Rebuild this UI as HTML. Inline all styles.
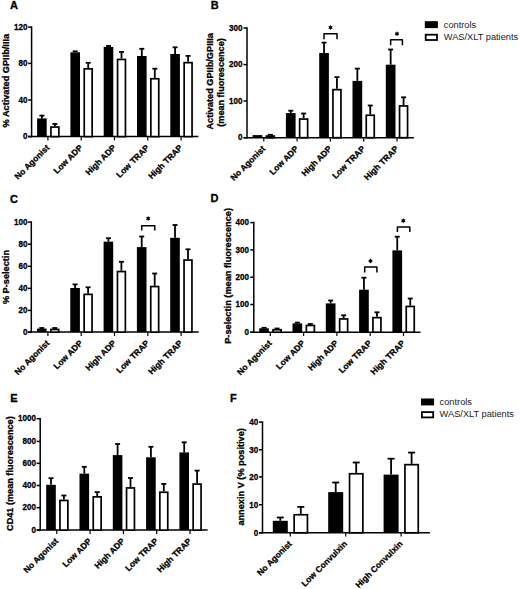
<!DOCTYPE html>
<html><head><meta charset="utf-8"><style>
html,body{margin:0;padding:0;background:#fff;}
svg{display:block;}
svg text{font-family:"Liberation Sans", sans-serif;}
svg text[font-weight="bold"]{stroke:#000;stroke-width:0.3px;}
</style></head><body>
<svg width="520" height="589" viewBox="0 0 520 589">
<rect width="520" height="589" fill="#fff"/>
<line x1="31.60" y1="26.35" x2="31.60" y2="137.35" stroke="#000" stroke-width="1.5"/>
<line x1="28.10" y1="136.60" x2="198.40" y2="136.60" stroke="#000" stroke-width="1.5"/>
<line x1="28.10" y1="27.10" x2="31.60" y2="27.10" stroke="#000" stroke-width="1.5"/>
<text transform="translate(27.40 29.85) scale(0.92 1)" font-size="8.8" font-weight="bold" text-anchor="end" fill="#000">120</text>
<line x1="28.10" y1="63.40" x2="31.60" y2="63.40" stroke="#000" stroke-width="1.5"/>
<text transform="translate(27.40 66.15) scale(0.92 1)" font-size="8.8" font-weight="bold" text-anchor="end" fill="#000">80</text>
<line x1="28.10" y1="100.00" x2="31.60" y2="100.00" stroke="#000" stroke-width="1.5"/>
<text transform="translate(27.40 102.75) scale(0.92 1)" font-size="8.8" font-weight="bold" text-anchor="end" fill="#000">40</text>
<line x1="28.10" y1="136.60" x2="31.60" y2="136.60" stroke="#000" stroke-width="1.5"/>
<text transform="translate(27.40 139.35) scale(0.92 1)" font-size="8.8" font-weight="bold" text-anchor="end" fill="#000">0</text>
<line x1="41.90" y1="118.40" x2="41.90" y2="115.60" stroke="#000" stroke-width="1.8"/>
<line x1="39.40" y1="115.60" x2="44.40" y2="115.60" stroke="#000" stroke-width="1.8"/>
<rect x="37.10" y="118.40" width="9.60" height="18.20" fill="#000"/>
<line x1="54.90" y1="126.20" x2="54.90" y2="124.00" stroke="#000" stroke-width="1.8"/>
<line x1="52.40" y1="124.00" x2="57.40" y2="124.00" stroke="#000" stroke-width="1.8"/>
<rect x="50.95" y="127.05" width="7.90" height="9.55" fill="#fff" stroke="#000" stroke-width="1.7"/>
<line x1="47.90" y1="136.60" x2="47.90" y2="140.40" stroke="#000" stroke-width="1.2"/>
<text x="49.90" y="148.20" font-size="8.5" font-weight="bold" text-anchor="end" fill="#000" transform="rotate(-45 49.9 148.2)">No Agonist</text>
<line x1="75.20" y1="52.30" x2="75.20" y2="51.30" stroke="#000" stroke-width="1.8"/>
<line x1="72.70" y1="51.30" x2="77.70" y2="51.30" stroke="#000" stroke-width="1.8"/>
<rect x="70.40" y="52.30" width="9.60" height="84.30" fill="#000"/>
<line x1="88.20" y1="68.00" x2="88.20" y2="62.80" stroke="#000" stroke-width="1.8"/>
<line x1="85.70" y1="62.80" x2="90.70" y2="62.80" stroke="#000" stroke-width="1.8"/>
<rect x="84.25" y="68.85" width="7.90" height="67.75" fill="#fff" stroke="#000" stroke-width="1.7"/>
<line x1="81.20" y1="136.60" x2="81.20" y2="140.40" stroke="#000" stroke-width="1.2"/>
<text x="83.20" y="148.20" font-size="8.5" font-weight="bold" text-anchor="end" fill="#000" transform="rotate(-45 83.19999999999999 148.2)">Low ADP</text>
<line x1="108.50" y1="46.90" x2="108.50" y2="45.90" stroke="#000" stroke-width="1.8"/>
<line x1="106.00" y1="45.90" x2="111.00" y2="45.90" stroke="#000" stroke-width="1.8"/>
<rect x="103.70" y="46.90" width="9.60" height="89.70" fill="#000"/>
<line x1="121.50" y1="58.60" x2="121.50" y2="52.00" stroke="#000" stroke-width="1.8"/>
<line x1="119.00" y1="52.00" x2="124.00" y2="52.00" stroke="#000" stroke-width="1.8"/>
<rect x="117.55" y="59.45" width="7.90" height="77.15" fill="#fff" stroke="#000" stroke-width="1.7"/>
<line x1="114.50" y1="136.60" x2="114.50" y2="140.40" stroke="#000" stroke-width="1.2"/>
<text x="116.50" y="148.20" font-size="8.5" font-weight="bold" text-anchor="end" fill="#000" transform="rotate(-45 116.5 148.2)">High ADP</text>
<line x1="141.80" y1="56.00" x2="141.80" y2="48.80" stroke="#000" stroke-width="1.8"/>
<line x1="139.30" y1="48.80" x2="144.30" y2="48.80" stroke="#000" stroke-width="1.8"/>
<rect x="137.00" y="56.00" width="9.60" height="80.60" fill="#000"/>
<line x1="154.80" y1="77.90" x2="154.80" y2="68.70" stroke="#000" stroke-width="1.8"/>
<line x1="152.30" y1="68.70" x2="157.30" y2="68.70" stroke="#000" stroke-width="1.8"/>
<rect x="150.85" y="78.75" width="7.90" height="57.85" fill="#fff" stroke="#000" stroke-width="1.7"/>
<line x1="147.80" y1="136.60" x2="147.80" y2="140.40" stroke="#000" stroke-width="1.2"/>
<text x="149.80" y="148.20" font-size="8.5" font-weight="bold" text-anchor="end" fill="#000" transform="rotate(-45 149.79999999999998 148.2)">Low TRAP</text>
<line x1="175.10" y1="54.00" x2="175.10" y2="47.30" stroke="#000" stroke-width="1.8"/>
<line x1="172.60" y1="47.30" x2="177.60" y2="47.30" stroke="#000" stroke-width="1.8"/>
<rect x="170.30" y="54.00" width="9.60" height="82.60" fill="#000"/>
<line x1="188.10" y1="61.80" x2="188.10" y2="55.90" stroke="#000" stroke-width="1.8"/>
<line x1="185.60" y1="55.90" x2="190.60" y2="55.90" stroke="#000" stroke-width="1.8"/>
<rect x="184.15" y="62.65" width="7.90" height="73.95" fill="#fff" stroke="#000" stroke-width="1.7"/>
<line x1="181.10" y1="136.60" x2="181.10" y2="140.40" stroke="#000" stroke-width="1.2"/>
<text x="183.10" y="148.20" font-size="8.5" font-weight="bold" text-anchor="end" fill="#000" transform="rotate(-45 183.1 148.2)">High TRAP</text>
<text x="8.90" y="80.70" font-size="9.2" font-weight="bold" text-anchor="middle" fill="#000" transform="rotate(-90 8.9 80.7)">% Activated GPIIb/IIIa</text>
<text x="10.00" y="9.40" font-size="11" font-weight="bold" text-anchor="start" fill="#000">A</text>
<line x1="247.00" y1="27.25" x2="247.00" y2="138.45" stroke="#000" stroke-width="1.5"/>
<line x1="243.50" y1="137.70" x2="413.90" y2="137.70" stroke="#000" stroke-width="1.5"/>
<line x1="243.50" y1="28.00" x2="247.00" y2="28.00" stroke="#000" stroke-width="1.5"/>
<text transform="translate(242.60 30.75) scale(0.92 1)" font-size="8.8" font-weight="bold" text-anchor="end" fill="#000">300</text>
<line x1="243.50" y1="64.60" x2="247.00" y2="64.60" stroke="#000" stroke-width="1.5"/>
<text transform="translate(242.60 67.35) scale(0.92 1)" font-size="8.8" font-weight="bold" text-anchor="end" fill="#000">200</text>
<line x1="243.50" y1="101.00" x2="247.00" y2="101.00" stroke="#000" stroke-width="1.5"/>
<text transform="translate(242.60 103.75) scale(0.92 1)" font-size="8.8" font-weight="bold" text-anchor="end" fill="#000">100</text>
<line x1="243.50" y1="137.70" x2="247.00" y2="137.70" stroke="#000" stroke-width="1.5"/>
<text transform="translate(242.60 140.45) scale(0.92 1)" font-size="8.8" font-weight="bold" text-anchor="end" fill="#000">0</text>
<rect x="252.60" y="135.10" width="9.70" height="2.60" fill="#000"/>
<line x1="270.35" y1="135.20" x2="270.35" y2="134.80" stroke="#000" stroke-width="1.8"/>
<line x1="267.85" y1="134.80" x2="272.85" y2="134.80" stroke="#000" stroke-width="1.8"/>
<rect x="266.35" y="136.05" width="8.00" height="1.65" fill="#fff" stroke="#000" stroke-width="1.7"/>
<line x1="263.80" y1="137.70" x2="263.80" y2="141.50" stroke="#000" stroke-width="1.2"/>
<text x="265.80" y="149.30" font-size="8.5" font-weight="bold" text-anchor="end" fill="#000" transform="rotate(-45 265.8 149.29999999999998)">No Agonist</text>
<line x1="290.75" y1="113.10" x2="290.75" y2="110.70" stroke="#000" stroke-width="1.8"/>
<line x1="288.25" y1="110.70" x2="293.25" y2="110.70" stroke="#000" stroke-width="1.8"/>
<rect x="285.90" y="113.10" width="9.70" height="24.60" fill="#000"/>
<line x1="303.65" y1="118.20" x2="303.65" y2="113.50" stroke="#000" stroke-width="1.8"/>
<line x1="301.15" y1="113.50" x2="306.15" y2="113.50" stroke="#000" stroke-width="1.8"/>
<rect x="299.65" y="119.05" width="8.00" height="18.65" fill="#fff" stroke="#000" stroke-width="1.7"/>
<line x1="297.10" y1="137.70" x2="297.10" y2="141.50" stroke="#000" stroke-width="1.2"/>
<text x="299.10" y="149.30" font-size="8.5" font-weight="bold" text-anchor="end" fill="#000" transform="rotate(-45 299.1 149.29999999999998)">Low ADP</text>
<line x1="324.05" y1="53.00" x2="324.05" y2="42.60" stroke="#000" stroke-width="1.8"/>
<line x1="321.55" y1="42.60" x2="326.55" y2="42.60" stroke="#000" stroke-width="1.8"/>
<rect x="319.20" y="53.00" width="9.70" height="84.70" fill="#000"/>
<line x1="336.95" y1="88.80" x2="336.95" y2="77.10" stroke="#000" stroke-width="1.8"/>
<line x1="334.45" y1="77.10" x2="339.45" y2="77.10" stroke="#000" stroke-width="1.8"/>
<rect x="332.95" y="89.65" width="8.00" height="48.05" fill="#fff" stroke="#000" stroke-width="1.7"/>
<line x1="330.40" y1="137.70" x2="330.40" y2="141.50" stroke="#000" stroke-width="1.2"/>
<text x="332.40" y="149.30" font-size="8.5" font-weight="bold" text-anchor="end" fill="#000" transform="rotate(-45 332.4 149.29999999999998)">High ADP</text>
<line x1="357.35" y1="80.90" x2="357.35" y2="68.60" stroke="#000" stroke-width="1.8"/>
<line x1="354.85" y1="68.60" x2="359.85" y2="68.60" stroke="#000" stroke-width="1.8"/>
<rect x="352.50" y="80.90" width="9.70" height="56.80" fill="#000"/>
<line x1="370.25" y1="114.40" x2="370.25" y2="105.50" stroke="#000" stroke-width="1.8"/>
<line x1="367.75" y1="105.50" x2="372.75" y2="105.50" stroke="#000" stroke-width="1.8"/>
<rect x="366.25" y="115.25" width="8.00" height="22.45" fill="#fff" stroke="#000" stroke-width="1.7"/>
<line x1="363.70" y1="137.70" x2="363.70" y2="141.50" stroke="#000" stroke-width="1.2"/>
<text x="365.70" y="149.30" font-size="8.5" font-weight="bold" text-anchor="end" fill="#000" transform="rotate(-45 365.7 149.29999999999998)">Low TRAP</text>
<line x1="390.65" y1="64.70" x2="390.65" y2="49.50" stroke="#000" stroke-width="1.8"/>
<line x1="388.15" y1="49.50" x2="393.15" y2="49.50" stroke="#000" stroke-width="1.8"/>
<rect x="385.80" y="64.70" width="9.70" height="73.00" fill="#000"/>
<line x1="403.55" y1="105.10" x2="403.55" y2="97.30" stroke="#000" stroke-width="1.8"/>
<line x1="401.05" y1="97.30" x2="406.05" y2="97.30" stroke="#000" stroke-width="1.8"/>
<rect x="399.55" y="105.95" width="8.00" height="31.75" fill="#fff" stroke="#000" stroke-width="1.7"/>
<line x1="397.00" y1="137.70" x2="397.00" y2="141.50" stroke="#000" stroke-width="1.2"/>
<text x="399.00" y="149.30" font-size="8.5" font-weight="bold" text-anchor="end" fill="#000" transform="rotate(-45 399.0 149.29999999999998)">High TRAP</text>
<polyline points="324.00,39.30 324.00,33.80 337.00,33.80 337.00,39.30" fill="none" stroke="#000" stroke-width="1.5" stroke-linejoin="round"/>
<path d="M330.50,25.95L330.50,29.05M331.84,26.72L329.16,28.28M331.84,28.27L329.16,26.73" stroke="#000" stroke-width="1.3" stroke-linecap="round"/>
<polyline points="390.65,45.20 390.65,39.75 402.40,39.75 402.40,45.20" fill="none" stroke="#000" stroke-width="1.5" stroke-linejoin="round"/>
<path d="M397.00,32.20L397.00,35.30M398.34,32.98L395.66,34.52M398.34,34.52L395.66,32.98" stroke="#000" stroke-width="1.3" stroke-linecap="round"/>
<text x="213.00" y="81.35" font-size="9.2" font-weight="bold" text-anchor="middle" fill="#000" transform="rotate(-90 213.0 81.35)">Activated GPIIb/GPIIIa</text>
<text x="223.90" y="82.50" font-size="9.1" font-weight="bold" text-anchor="middle" fill="#000" transform="rotate(-90 223.9 82.5)">(mean fluorescence)</text>
<text x="210.80" y="9.40" font-size="11" font-weight="bold" text-anchor="start" fill="#000">B</text>
<line x1="31.30" y1="221.35" x2="31.30" y2="332.85" stroke="#000" stroke-width="1.5"/>
<line x1="27.80" y1="332.10" x2="198.70" y2="332.10" stroke="#000" stroke-width="1.5"/>
<line x1="27.80" y1="222.10" x2="31.30" y2="222.10" stroke="#000" stroke-width="1.5"/>
<text transform="translate(27.40 224.85) scale(0.92 1)" font-size="8.8" font-weight="bold" text-anchor="end" fill="#000">100</text>
<line x1="27.80" y1="244.20" x2="31.30" y2="244.20" stroke="#000" stroke-width="1.5"/>
<text transform="translate(27.40 246.95) scale(0.92 1)" font-size="8.8" font-weight="bold" text-anchor="end" fill="#000">80</text>
<line x1="27.80" y1="266.30" x2="31.30" y2="266.30" stroke="#000" stroke-width="1.5"/>
<text transform="translate(27.40 269.05) scale(0.92 1)" font-size="8.8" font-weight="bold" text-anchor="end" fill="#000">60</text>
<line x1="27.80" y1="288.40" x2="31.30" y2="288.40" stroke="#000" stroke-width="1.5"/>
<text transform="translate(27.40 291.15) scale(0.92 1)" font-size="8.8" font-weight="bold" text-anchor="end" fill="#000">40</text>
<line x1="27.80" y1="310.40" x2="31.30" y2="310.40" stroke="#000" stroke-width="1.5"/>
<text transform="translate(27.40 313.15) scale(0.92 1)" font-size="8.8" font-weight="bold" text-anchor="end" fill="#000">20</text>
<line x1="27.80" y1="332.10" x2="31.30" y2="332.10" stroke="#000" stroke-width="1.5"/>
<text transform="translate(27.40 334.85) scale(0.92 1)" font-size="8.8" font-weight="bold" text-anchor="end" fill="#000">0</text>
<line x1="41.80" y1="328.60" x2="41.80" y2="328.00" stroke="#000" stroke-width="1.8"/>
<line x1="39.30" y1="328.00" x2="44.30" y2="328.00" stroke="#000" stroke-width="1.8"/>
<rect x="37.00" y="328.60" width="9.60" height="3.50" fill="#000"/>
<line x1="54.80" y1="328.60" x2="54.80" y2="328.00" stroke="#000" stroke-width="1.8"/>
<line x1="52.30" y1="328.00" x2="57.30" y2="328.00" stroke="#000" stroke-width="1.8"/>
<rect x="50.85" y="329.45" width="7.90" height="2.65" fill="#fff" stroke="#000" stroke-width="1.7"/>
<line x1="47.90" y1="332.10" x2="47.90" y2="335.90" stroke="#000" stroke-width="1.2"/>
<text x="49.90" y="343.70" font-size="8.5" font-weight="bold" text-anchor="end" fill="#000" transform="rotate(-45 49.9 343.70000000000005)">No Agonist</text>
<line x1="75.10" y1="288.00" x2="75.10" y2="284.40" stroke="#000" stroke-width="1.8"/>
<line x1="72.60" y1="284.40" x2="77.60" y2="284.40" stroke="#000" stroke-width="1.8"/>
<rect x="70.30" y="288.00" width="9.60" height="44.10" fill="#000"/>
<line x1="88.10" y1="293.50" x2="88.10" y2="287.30" stroke="#000" stroke-width="1.8"/>
<line x1="85.60" y1="287.30" x2="90.60" y2="287.30" stroke="#000" stroke-width="1.8"/>
<rect x="84.15" y="294.35" width="7.90" height="37.75" fill="#fff" stroke="#000" stroke-width="1.7"/>
<line x1="81.20" y1="332.10" x2="81.20" y2="335.90" stroke="#000" stroke-width="1.2"/>
<text x="83.20" y="343.70" font-size="8.5" font-weight="bold" text-anchor="end" fill="#000" transform="rotate(-45 83.19999999999999 343.70000000000005)">Low ADP</text>
<line x1="108.40" y1="241.60" x2="108.40" y2="238.20" stroke="#000" stroke-width="1.8"/>
<line x1="105.90" y1="238.20" x2="110.90" y2="238.20" stroke="#000" stroke-width="1.8"/>
<rect x="103.60" y="241.60" width="9.60" height="90.50" fill="#000"/>
<line x1="121.40" y1="270.70" x2="121.40" y2="261.80" stroke="#000" stroke-width="1.8"/>
<line x1="118.90" y1="261.80" x2="123.90" y2="261.80" stroke="#000" stroke-width="1.8"/>
<rect x="117.45" y="271.55" width="7.90" height="60.55" fill="#fff" stroke="#000" stroke-width="1.7"/>
<line x1="114.50" y1="332.10" x2="114.50" y2="335.90" stroke="#000" stroke-width="1.2"/>
<text x="116.50" y="343.70" font-size="8.5" font-weight="bold" text-anchor="end" fill="#000" transform="rotate(-45 116.5 343.70000000000005)">High ADP</text>
<line x1="141.70" y1="247.10" x2="141.70" y2="236.50" stroke="#000" stroke-width="1.8"/>
<line x1="139.20" y1="236.50" x2="144.20" y2="236.50" stroke="#000" stroke-width="1.8"/>
<rect x="136.90" y="247.10" width="9.60" height="85.00" fill="#000"/>
<line x1="154.70" y1="285.70" x2="154.70" y2="273.50" stroke="#000" stroke-width="1.8"/>
<line x1="152.20" y1="273.50" x2="157.20" y2="273.50" stroke="#000" stroke-width="1.8"/>
<rect x="150.75" y="286.55" width="7.90" height="45.55" fill="#fff" stroke="#000" stroke-width="1.7"/>
<line x1="147.80" y1="332.10" x2="147.80" y2="335.90" stroke="#000" stroke-width="1.2"/>
<text x="149.80" y="343.70" font-size="8.5" font-weight="bold" text-anchor="end" fill="#000" transform="rotate(-45 149.79999999999998 343.70000000000005)">Low TRAP</text>
<line x1="175.00" y1="237.80" x2="175.00" y2="225.00" stroke="#000" stroke-width="1.8"/>
<line x1="172.50" y1="225.00" x2="177.50" y2="225.00" stroke="#000" stroke-width="1.8"/>
<rect x="170.20" y="237.80" width="9.60" height="94.30" fill="#000"/>
<line x1="188.00" y1="259.20" x2="188.00" y2="249.30" stroke="#000" stroke-width="1.8"/>
<line x1="185.50" y1="249.30" x2="190.50" y2="249.30" stroke="#000" stroke-width="1.8"/>
<rect x="184.05" y="260.05" width="7.90" height="72.05" fill="#fff" stroke="#000" stroke-width="1.7"/>
<line x1="181.10" y1="332.10" x2="181.10" y2="335.90" stroke="#000" stroke-width="1.2"/>
<text x="183.10" y="343.70" font-size="8.5" font-weight="bold" text-anchor="end" fill="#000" transform="rotate(-45 183.1 343.70000000000005)">High TRAP</text>
<polyline points="141.70,230.60 141.70,225.80 154.80,225.80 154.80,230.60" fill="none" stroke="#000" stroke-width="1.5" stroke-linejoin="round"/>
<path d="M148.20,216.95L148.20,220.05M149.54,217.72L146.86,219.28M149.54,219.28L146.86,217.72" stroke="#000" stroke-width="1.3" stroke-linecap="round"/>
<text x="9.30" y="277.05" font-size="9.2" font-weight="bold" text-anchor="middle" fill="#000" transform="rotate(-90 9.3 277.05)">% P-selectin</text>
<text x="10.10" y="202.70" font-size="11" font-weight="bold" text-anchor="start" fill="#000">C</text>
<line x1="253.80" y1="221.85" x2="253.80" y2="332.95" stroke="#000" stroke-width="1.5"/>
<line x1="250.30" y1="332.20" x2="420.50" y2="332.20" stroke="#000" stroke-width="1.5"/>
<line x1="250.30" y1="222.60" x2="253.80" y2="222.60" stroke="#000" stroke-width="1.5"/>
<text transform="translate(249.00 225.35) scale(0.92 1)" font-size="8.8" font-weight="bold" text-anchor="end" fill="#000">400</text>
<line x1="250.30" y1="249.90" x2="253.80" y2="249.90" stroke="#000" stroke-width="1.5"/>
<text transform="translate(249.00 252.65) scale(0.92 1)" font-size="8.8" font-weight="bold" text-anchor="end" fill="#000">300</text>
<line x1="250.30" y1="277.20" x2="253.80" y2="277.20" stroke="#000" stroke-width="1.5"/>
<text transform="translate(249.00 279.95) scale(0.92 1)" font-size="8.8" font-weight="bold" text-anchor="end" fill="#000">200</text>
<line x1="250.30" y1="304.50" x2="253.80" y2="304.50" stroke="#000" stroke-width="1.5"/>
<text transform="translate(249.00 307.25) scale(0.92 1)" font-size="8.8" font-weight="bold" text-anchor="end" fill="#000">100</text>
<line x1="250.30" y1="332.20" x2="253.80" y2="332.20" stroke="#000" stroke-width="1.5"/>
<text transform="translate(249.00 334.95) scale(0.92 1)" font-size="8.8" font-weight="bold" text-anchor="end" fill="#000">0</text>
<line x1="264.05" y1="328.30" x2="264.05" y2="327.80" stroke="#000" stroke-width="1.8"/>
<line x1="261.55" y1="327.80" x2="266.55" y2="327.80" stroke="#000" stroke-width="1.8"/>
<rect x="259.20" y="328.30" width="9.70" height="3.90" fill="#000"/>
<line x1="277.05" y1="328.90" x2="277.05" y2="328.50" stroke="#000" stroke-width="1.8"/>
<line x1="274.55" y1="328.50" x2="279.55" y2="328.50" stroke="#000" stroke-width="1.8"/>
<rect x="273.05" y="329.75" width="8.00" height="2.45" fill="#fff" stroke="#000" stroke-width="1.7"/>
<line x1="270.30" y1="332.20" x2="270.30" y2="336.00" stroke="#000" stroke-width="1.2"/>
<text x="272.30" y="343.80" font-size="8.5" font-weight="bold" text-anchor="end" fill="#000" transform="rotate(-45 272.3 343.8)">No Agonist</text>
<line x1="297.35" y1="323.40" x2="297.35" y2="322.60" stroke="#000" stroke-width="1.8"/>
<line x1="294.85" y1="322.60" x2="299.85" y2="322.60" stroke="#000" stroke-width="1.8"/>
<rect x="292.50" y="323.40" width="9.70" height="8.80" fill="#000"/>
<line x1="310.35" y1="324.60" x2="310.35" y2="324.00" stroke="#000" stroke-width="1.8"/>
<line x1="307.85" y1="324.00" x2="312.85" y2="324.00" stroke="#000" stroke-width="1.8"/>
<rect x="306.35" y="325.45" width="8.00" height="6.75" fill="#fff" stroke="#000" stroke-width="1.7"/>
<line x1="303.60" y1="332.20" x2="303.60" y2="336.00" stroke="#000" stroke-width="1.2"/>
<text x="305.60" y="343.80" font-size="8.5" font-weight="bold" text-anchor="end" fill="#000" transform="rotate(-45 305.6 343.8)">Low ADP</text>
<line x1="330.65" y1="303.40" x2="330.65" y2="300.50" stroke="#000" stroke-width="1.8"/>
<line x1="328.15" y1="300.50" x2="333.15" y2="300.50" stroke="#000" stroke-width="1.8"/>
<rect x="325.80" y="303.40" width="9.70" height="28.80" fill="#000"/>
<line x1="343.65" y1="318.10" x2="343.65" y2="315.30" stroke="#000" stroke-width="1.8"/>
<line x1="341.15" y1="315.30" x2="346.15" y2="315.30" stroke="#000" stroke-width="1.8"/>
<rect x="339.65" y="318.95" width="8.00" height="13.25" fill="#fff" stroke="#000" stroke-width="1.7"/>
<line x1="336.90" y1="332.20" x2="336.90" y2="336.00" stroke="#000" stroke-width="1.2"/>
<text x="338.90" y="343.80" font-size="8.5" font-weight="bold" text-anchor="end" fill="#000" transform="rotate(-45 338.9 343.8)">High ADP</text>
<line x1="363.95" y1="289.70" x2="363.95" y2="277.70" stroke="#000" stroke-width="1.8"/>
<line x1="361.45" y1="277.70" x2="366.45" y2="277.70" stroke="#000" stroke-width="1.8"/>
<rect x="359.10" y="289.70" width="9.70" height="42.50" fill="#000"/>
<line x1="376.95" y1="316.80" x2="376.95" y2="312.30" stroke="#000" stroke-width="1.8"/>
<line x1="374.45" y1="312.30" x2="379.45" y2="312.30" stroke="#000" stroke-width="1.8"/>
<rect x="372.95" y="317.65" width="8.00" height="14.55" fill="#fff" stroke="#000" stroke-width="1.7"/>
<line x1="370.20" y1="332.20" x2="370.20" y2="336.00" stroke="#000" stroke-width="1.2"/>
<text x="372.20" y="343.80" font-size="8.5" font-weight="bold" text-anchor="end" fill="#000" transform="rotate(-45 372.2 343.8)">Low TRAP</text>
<line x1="397.25" y1="250.40" x2="397.25" y2="236.70" stroke="#000" stroke-width="1.8"/>
<line x1="394.75" y1="236.70" x2="399.75" y2="236.70" stroke="#000" stroke-width="1.8"/>
<rect x="392.40" y="250.40" width="9.70" height="81.80" fill="#000"/>
<line x1="410.25" y1="305.60" x2="410.25" y2="298.50" stroke="#000" stroke-width="1.8"/>
<line x1="407.75" y1="298.50" x2="412.75" y2="298.50" stroke="#000" stroke-width="1.8"/>
<rect x="406.25" y="306.45" width="8.00" height="25.75" fill="#fff" stroke="#000" stroke-width="1.7"/>
<line x1="403.50" y1="332.20" x2="403.50" y2="336.00" stroke="#000" stroke-width="1.2"/>
<text x="405.50" y="343.80" font-size="8.5" font-weight="bold" text-anchor="end" fill="#000" transform="rotate(-45 405.5 343.8)">High TRAP</text>
<polyline points="364.70,272.40 364.70,267.10 376.90,267.10 376.90,272.40" fill="none" stroke="#000" stroke-width="1.5" stroke-linejoin="round"/>
<path d="M370.50,259.45L370.50,262.55M371.84,260.23L369.16,261.77M371.84,261.77L369.16,260.23" stroke="#000" stroke-width="1.3" stroke-linecap="round"/>
<polyline points="397.40,232.10 397.40,227.10 409.80,227.10 409.80,232.10" fill="none" stroke="#000" stroke-width="1.5" stroke-linejoin="round"/>
<path d="M403.30,219.15L403.30,222.25M404.64,219.92L401.96,221.47M404.64,221.47L401.96,219.92" stroke="#000" stroke-width="1.3" stroke-linecap="round"/>
<text x="231.00" y="275.90" font-size="9.22" font-weight="bold" text-anchor="middle" fill="#000" transform="rotate(-90 231.0 275.9)">P-selectin (mean fluorescence)</text>
<text x="210.60" y="202.40" font-size="11" font-weight="bold" text-anchor="start" fill="#000">D</text>
<line x1="40.20" y1="417.95" x2="40.20" y2="530.85" stroke="#000" stroke-width="1.5"/>
<line x1="36.70" y1="530.10" x2="207.60" y2="530.10" stroke="#000" stroke-width="1.5"/>
<line x1="36.70" y1="418.70" x2="40.20" y2="418.70" stroke="#000" stroke-width="1.5"/>
<text transform="translate(36.00 421.45) scale(0.92 1)" font-size="8.8" font-weight="bold" text-anchor="end" fill="#000">1000</text>
<line x1="36.70" y1="441.40" x2="40.20" y2="441.40" stroke="#000" stroke-width="1.5"/>
<text transform="translate(36.00 444.15) scale(0.92 1)" font-size="8.8" font-weight="bold" text-anchor="end" fill="#000">800</text>
<line x1="36.70" y1="463.30" x2="40.20" y2="463.30" stroke="#000" stroke-width="1.5"/>
<text transform="translate(36.00 466.05) scale(0.92 1)" font-size="8.8" font-weight="bold" text-anchor="end" fill="#000">600</text>
<line x1="36.70" y1="485.50" x2="40.20" y2="485.50" stroke="#000" stroke-width="1.5"/>
<text transform="translate(36.00 488.25) scale(0.92 1)" font-size="8.8" font-weight="bold" text-anchor="end" fill="#000">400</text>
<line x1="36.70" y1="507.70" x2="40.20" y2="507.70" stroke="#000" stroke-width="1.5"/>
<text transform="translate(36.00 510.45) scale(0.92 1)" font-size="8.8" font-weight="bold" text-anchor="end" fill="#000">200</text>
<line x1="36.70" y1="530.10" x2="40.20" y2="530.10" stroke="#000" stroke-width="1.5"/>
<text transform="translate(36.00 532.85) scale(0.92 1)" font-size="8.8" font-weight="bold" text-anchor="end" fill="#000">0</text>
<line x1="51.00" y1="484.80" x2="51.00" y2="478.20" stroke="#000" stroke-width="1.8"/>
<line x1="48.50" y1="478.20" x2="53.50" y2="478.20" stroke="#000" stroke-width="1.8"/>
<rect x="46.20" y="484.80" width="9.60" height="45.30" fill="#000"/>
<line x1="63.90" y1="499.60" x2="63.90" y2="495.50" stroke="#000" stroke-width="1.8"/>
<line x1="61.40" y1="495.50" x2="66.40" y2="495.50" stroke="#000" stroke-width="1.8"/>
<rect x="59.95" y="500.45" width="7.90" height="29.65" fill="#fff" stroke="#000" stroke-width="1.7"/>
<line x1="56.80" y1="530.10" x2="56.80" y2="533.90" stroke="#000" stroke-width="1.2"/>
<text x="58.80" y="541.70" font-size="8.5" font-weight="bold" text-anchor="end" fill="#000" transform="rotate(-45 58.8 541.7)">No Agonist</text>
<line x1="84.30" y1="473.60" x2="84.30" y2="466.80" stroke="#000" stroke-width="1.8"/>
<line x1="81.80" y1="466.80" x2="86.80" y2="466.80" stroke="#000" stroke-width="1.8"/>
<rect x="79.50" y="473.60" width="9.60" height="56.50" fill="#000"/>
<line x1="97.20" y1="496.00" x2="97.20" y2="492.10" stroke="#000" stroke-width="1.8"/>
<line x1="94.70" y1="492.10" x2="99.70" y2="492.10" stroke="#000" stroke-width="1.8"/>
<rect x="93.25" y="496.85" width="7.90" height="33.25" fill="#fff" stroke="#000" stroke-width="1.7"/>
<line x1="90.10" y1="530.10" x2="90.10" y2="533.90" stroke="#000" stroke-width="1.2"/>
<text x="92.10" y="541.70" font-size="8.5" font-weight="bold" text-anchor="end" fill="#000" transform="rotate(-45 92.1 541.7)">Low ADP</text>
<line x1="117.60" y1="455.10" x2="117.60" y2="444.00" stroke="#000" stroke-width="1.8"/>
<line x1="115.10" y1="444.00" x2="120.10" y2="444.00" stroke="#000" stroke-width="1.8"/>
<rect x="112.80" y="455.10" width="9.60" height="75.00" fill="#000"/>
<line x1="130.50" y1="487.10" x2="130.50" y2="478.00" stroke="#000" stroke-width="1.8"/>
<line x1="128.00" y1="478.00" x2="133.00" y2="478.00" stroke="#000" stroke-width="1.8"/>
<rect x="126.55" y="487.95" width="7.90" height="42.15" fill="#fff" stroke="#000" stroke-width="1.7"/>
<line x1="123.40" y1="530.10" x2="123.40" y2="533.90" stroke="#000" stroke-width="1.2"/>
<text x="125.40" y="541.70" font-size="8.5" font-weight="bold" text-anchor="end" fill="#000" transform="rotate(-45 125.39999999999999 541.7)">High ADP</text>
<line x1="150.90" y1="457.30" x2="150.90" y2="446.80" stroke="#000" stroke-width="1.8"/>
<line x1="148.40" y1="446.80" x2="153.40" y2="446.80" stroke="#000" stroke-width="1.8"/>
<rect x="146.10" y="457.30" width="9.60" height="72.80" fill="#000"/>
<line x1="163.80" y1="491.40" x2="163.80" y2="483.90" stroke="#000" stroke-width="1.8"/>
<line x1="161.30" y1="483.90" x2="166.30" y2="483.90" stroke="#000" stroke-width="1.8"/>
<rect x="159.85" y="492.25" width="7.90" height="37.85" fill="#fff" stroke="#000" stroke-width="1.7"/>
<line x1="156.70" y1="530.10" x2="156.70" y2="533.90" stroke="#000" stroke-width="1.2"/>
<text x="158.70" y="541.70" font-size="8.5" font-weight="bold" text-anchor="end" fill="#000" transform="rotate(-45 158.7 541.7)">Low TRAP</text>
<line x1="184.20" y1="452.40" x2="184.20" y2="442.30" stroke="#000" stroke-width="1.8"/>
<line x1="181.70" y1="442.30" x2="186.70" y2="442.30" stroke="#000" stroke-width="1.8"/>
<rect x="179.40" y="452.40" width="9.60" height="77.70" fill="#000"/>
<line x1="197.10" y1="483.20" x2="197.10" y2="470.60" stroke="#000" stroke-width="1.8"/>
<line x1="194.60" y1="470.60" x2="199.60" y2="470.60" stroke="#000" stroke-width="1.8"/>
<rect x="193.15" y="484.05" width="7.90" height="46.05" fill="#fff" stroke="#000" stroke-width="1.7"/>
<line x1="190.00" y1="530.10" x2="190.00" y2="533.90" stroke="#000" stroke-width="1.2"/>
<text x="192.00" y="541.70" font-size="8.5" font-weight="bold" text-anchor="end" fill="#000" transform="rotate(-45 192.0 541.7)">High TRAP</text>
<text x="13.00" y="473.60" font-size="9.15" font-weight="bold" text-anchor="middle" fill="#000" transform="rotate(-90 13.0 473.6)">CD41 (mean fluorescence)</text>
<text x="10.20" y="401.90" font-size="11" font-weight="bold" text-anchor="start" fill="#000">E</text>
<line x1="262.50" y1="421.35" x2="262.50" y2="533.55" stroke="#000" stroke-width="1.5"/>
<line x1="259.00" y1="532.80" x2="429.90" y2="532.80" stroke="#000" stroke-width="1.5"/>
<line x1="259.00" y1="422.10" x2="262.50" y2="422.10" stroke="#000" stroke-width="1.5"/>
<text transform="translate(258.20 424.85) scale(0.92 1)" font-size="8.8" font-weight="bold" text-anchor="end" fill="#000">40</text>
<line x1="259.00" y1="449.80" x2="262.50" y2="449.80" stroke="#000" stroke-width="1.5"/>
<text transform="translate(258.20 452.55) scale(0.92 1)" font-size="8.8" font-weight="bold" text-anchor="end" fill="#000">30</text>
<line x1="259.00" y1="476.90" x2="262.50" y2="476.90" stroke="#000" stroke-width="1.5"/>
<text transform="translate(258.20 479.65) scale(0.92 1)" font-size="8.8" font-weight="bold" text-anchor="end" fill="#000">20</text>
<line x1="259.00" y1="504.80" x2="262.50" y2="504.80" stroke="#000" stroke-width="1.5"/>
<text transform="translate(258.20 507.55) scale(0.92 1)" font-size="8.8" font-weight="bold" text-anchor="end" fill="#000">10</text>
<line x1="259.00" y1="532.80" x2="262.50" y2="532.80" stroke="#000" stroke-width="1.5"/>
<text transform="translate(258.20 535.55) scale(0.92 1)" font-size="8.8" font-weight="bold" text-anchor="end" fill="#000">0</text>
<line x1="280.30" y1="520.80" x2="280.30" y2="517.50" stroke="#000" stroke-width="1.8"/>
<line x1="276.80" y1="517.50" x2="283.80" y2="517.50" stroke="#000" stroke-width="1.8"/>
<rect x="272.80" y="520.80" width="15.00" height="12.00" fill="#000"/>
<line x1="300.80" y1="513.90" x2="300.80" y2="506.90" stroke="#000" stroke-width="1.8"/>
<line x1="297.30" y1="506.90" x2="304.30" y2="506.90" stroke="#000" stroke-width="1.8"/>
<rect x="294.15" y="514.75" width="13.30" height="18.05" fill="#fff" stroke="#000" stroke-width="1.7"/>
<line x1="290.30" y1="532.80" x2="290.30" y2="536.60" stroke="#000" stroke-width="1.2"/>
<text x="292.30" y="544.40" font-size="8.5" font-weight="bold" text-anchor="end" fill="#000" transform="rotate(-45 292.3 544.4)">No Agonist</text>
<line x1="335.70" y1="492.10" x2="335.70" y2="482.50" stroke="#000" stroke-width="1.8"/>
<line x1="332.20" y1="482.50" x2="339.20" y2="482.50" stroke="#000" stroke-width="1.8"/>
<rect x="328.20" y="492.10" width="15.00" height="40.70" fill="#000"/>
<line x1="356.20" y1="472.90" x2="356.20" y2="462.50" stroke="#000" stroke-width="1.8"/>
<line x1="352.70" y1="462.50" x2="359.70" y2="462.50" stroke="#000" stroke-width="1.8"/>
<rect x="349.55" y="473.75" width="13.30" height="59.05" fill="#fff" stroke="#000" stroke-width="1.7"/>
<line x1="345.70" y1="532.80" x2="345.70" y2="536.60" stroke="#000" stroke-width="1.2"/>
<text x="347.70" y="544.40" font-size="8.5" font-weight="bold" text-anchor="end" fill="#000" transform="rotate(-45 347.7 544.4)">Low Convulxin</text>
<line x1="391.10" y1="474.60" x2="391.10" y2="458.70" stroke="#000" stroke-width="1.8"/>
<line x1="387.60" y1="458.70" x2="394.60" y2="458.70" stroke="#000" stroke-width="1.8"/>
<rect x="383.60" y="474.60" width="15.00" height="58.20" fill="#000"/>
<line x1="411.60" y1="463.80" x2="411.60" y2="452.60" stroke="#000" stroke-width="1.8"/>
<line x1="408.10" y1="452.60" x2="415.10" y2="452.60" stroke="#000" stroke-width="1.8"/>
<rect x="404.95" y="464.65" width="13.30" height="68.15" fill="#fff" stroke="#000" stroke-width="1.7"/>
<line x1="401.10" y1="532.80" x2="401.10" y2="536.60" stroke="#000" stroke-width="1.2"/>
<text x="403.10" y="544.40" font-size="8.5" font-weight="bold" text-anchor="end" fill="#000" transform="rotate(-45 403.1 544.4)">High Convulxin</text>
<text x="244.20" y="476.85" font-size="9.2" font-weight="bold" text-anchor="middle" fill="#000" transform="rotate(-90 244.2 476.85)">annexin V (% positive)</text>
<text x="229.90" y="401.60" font-size="11" font-weight="bold" text-anchor="start" fill="#000">F</text>
<rect x="424.80" y="21.20" width="13.1" height="6.9" fill="#000"/>
<rect x="425.70" y="34.70" width="11.3" height="5.3" fill="#fff" stroke="#000" stroke-width="1.8"/>
<text transform="translate(443.80 27.90) scale(0.955 1)" font-size="9.7" font-weight="normal" fill="#1a1a1a">controls</text>
<text transform="translate(443.80 40.00) scale(0.955 1)" font-size="9.7" font-weight="normal" fill="#1a1a1a">WAS/XLT patients</text>
<rect x="421.00" y="398.50" width="13.1" height="6.9" fill="#000"/>
<rect x="421.90" y="412.10" width="11.3" height="5.3" fill="#fff" stroke="#000" stroke-width="1.8"/>
<text transform="translate(439.60 405.20) scale(0.955 1)" font-size="9.7" font-weight="normal" fill="#1a1a1a">controls</text>
<text transform="translate(439.60 417.40) scale(0.955 1)" font-size="9.7" font-weight="normal" fill="#1a1a1a">WAS/XLT patients</text>
</svg>
</body></html>
